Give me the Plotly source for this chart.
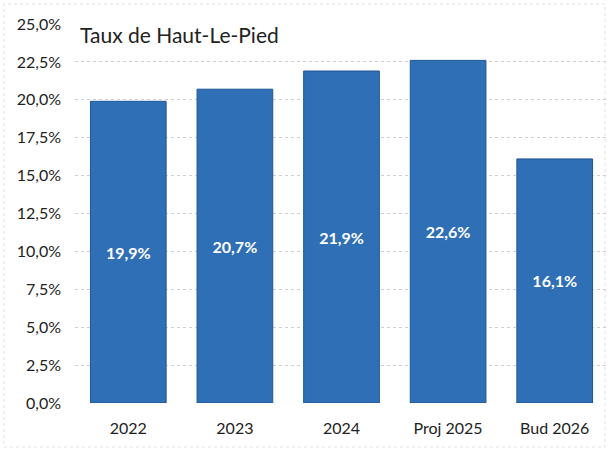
import plotly.graph_objects as go

categories = ["2022", "2023", "2024", "Proj 2025", "Bud 2026"]
values = [19.9, 20.7, 21.9, 22.6, 16.1]
tick_vals = [0, 2.5, 5, 7.5, 10, 12.5, 15, 17.5, 20, 22.5, 25]
tick_text = ["0,0%", "2,5%", "5,0%", "7,5%", "10,0%", "12,5%", "15,0%", "17,5%", "20,0%", "22,5%", "25,0%"]
title_text = "Taux de Haut-Le-Pied"

labels = [f"{v:.1f}".replace(".", ",") + "%" for v in values]

W, H = 610, 451
ml, mr, mt, mb = 75, 2, 24, 48
pw, ph = W - ml - mr, H - mt - mb

fig = go.Figure(go.Bar(
    x=categories, y=values, text=labels,
    textposition="inside", insidetextanchor="middle",
    textfont=dict(color="white", size=16, family="Lato", weight="bold"),
    marker=dict(color="#2f6fb6", line=dict(color="#1f5596", width=1)),
    width=0.71, textangle=0,
))

fig.update_layout(
    width=W, height=H,
    margin=dict(l=ml, r=mr, t=mt, b=mb, autoexpand=False),
    paper_bgcolor="white", plot_bgcolor="white",
    font=dict(family="Lato", size=16, color="#222"),
    showlegend=False,
    xaxis=dict(showgrid=False, showline=False, ticks="", tickfont=dict(size=16),
               range=[-0.5, 4.5], automargin=False, ticklabelstandoff=14),
    yaxis=dict(range=[0, 25], tickvals=tick_vals, ticktext=tick_text,
               showgrid=True, gridcolor="#d0d0d0", griddash="dot", gridwidth=1,
               zeroline=False, showline=False, ticks="", ticklabelstandoff=13,
               tickfont=dict(size=16), automargin=False),
    annotations=[dict(text=title_text, x=0.005, y=24.3, xref="paper", yref="y",
                      xanchor="left", yanchor="middle", showarrow=False,
                      font=dict(size=21, color="#222"))],
    shapes=[dict(type="rect", xref="paper", yref="paper",
                 x0=(4 - ml) / pw, x1=(605 - ml) / pw,
                 y0=(H - mb - 447) / ph, y1=(H - mb - 4) / ph,
                 line=dict(color="#e0e0e0", width=1, dash="dot"), layer="below")],
)

fig.write_html("out.html", config={"displayModeBar": False},
               post_script="document.body.style.margin='0';")
